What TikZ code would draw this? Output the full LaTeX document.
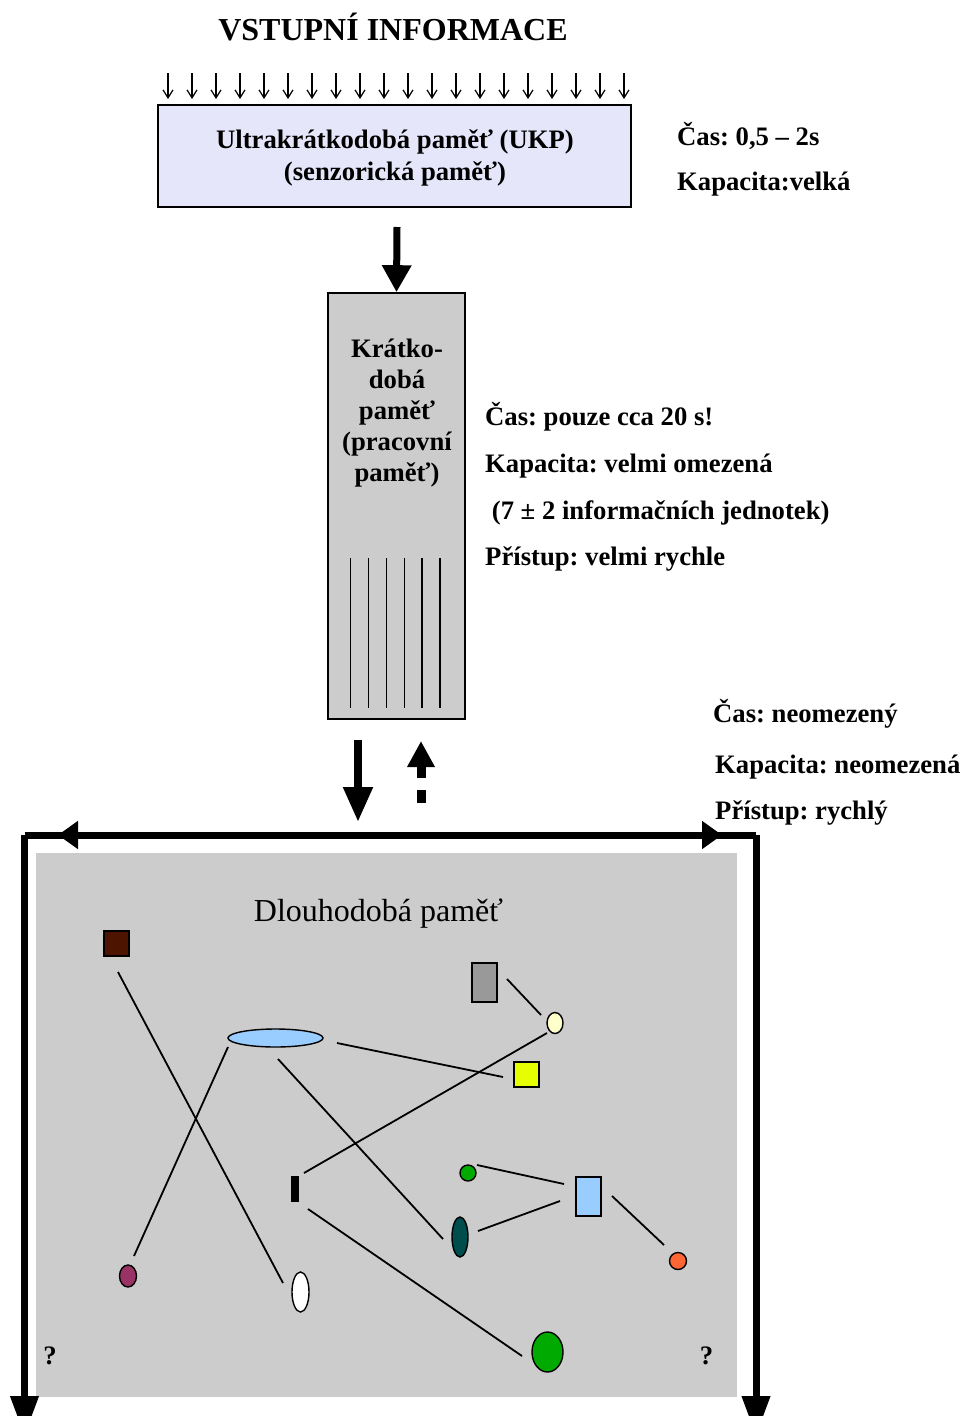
\documentclass[tikz,border=0pt]{standalone}
\usepackage{fontspec}
\setmainfont{Liberation Serif}
\usetikzlibrary{arrows.meta,shapes.geometric}
\frenchspacing

\definecolor{ukpfill}{RGB}{230,230,250}
\definecolor{panelgray}{RGB}{204,204,204}
\definecolor{cBrown}{RGB}{77,20,0}
\definecolor{cGray}{RGB}{153,153,153}
\definecolor{cCream}{RGB}{255,255,204}
\definecolor{cSky}{RGB}{153,204,255}
\definecolor{cLime}{RGB}{230,255,0}
\definecolor{cGreen}{RGB}{0,170,0}
\definecolor{cTeal}{RGB}{0,77,77}
\definecolor{cOrange}{RGB}{255,102,51}
\definecolor{cPlum}{RGB}{153,51,102}

\begin{document}
\begin{tikzpicture}[x=1pt,y=-1pt,
  body/.style={font=\fontsize{26.67}{31}\selectfont\bfseries, inner sep=0pt},
  info/.style={body, anchor=base west},
  memorybox/.style={draw, line width=1.6pt, inner sep=0pt},
  inarrow/.style={line width=1.2pt, -{Straight Barb[length=8pt,width=10pt]}},
  fatarrow/.style={line width=7pt, -{Triangle[length=27pt,width=28pt]}},
  framebar/.style={line width=7pt},
  blob/.style={draw, line width=1.4pt, inner sep=0pt},
  oval/.style={blob, ellipse},
  link/.style={line width=1.8pt}]

\useasboundingbox (0,0) rectangle (970,1416);
\clip (0,0) rectangle (970,1416);

% heading and incoming stimuli
\node[font=\fontsize{32}{38}\selectfont\bfseries, anchor=base, inner sep=0pt] (title) at (393,40) {VSTUPNÍ INFORMACE};
\foreach \i in {0,...,19}
  \draw[inarrow] ({168+24*\i},73) -- ({168+24*\i},99);

% sensory memory
\node[memorybox, fill=ukpfill, minimum width=473pt, minimum height=102pt] (ukp) at (394.5,156) {};
\node[body, align=center, font=\fontsize{26.67}{32}\selectfont\bfseries] (ukptext) at (395,158)
  {Ultrakrátkodobá paměť (UKP)\\(senzorická paměť)};
\node[info] (ukpcas) at (677,145) {Čas: 0,5 – 2s};
\node[info] (ukpkap) at (677,190) {Kapacita:velká};

% short-term memory
\node[memorybox, fill=panelgray, minimum width=137pt, minimum height=426pt] (stm) at (396.5,506) {};
\node[body, align=center] (stmtext) at (397,413) {Krátko-\\dobá\\paměť\\(pracovní\\paměť)};
\foreach \x in {350.5,368.5,386.5,404.5,422,440}
  \draw[line width=1.5pt] (\x,558) -- (\x,708);
\coordinate (ukpout) at (397,227);
\draw[fatarrow] (ukpout) -- (stm.north);

\node[info] (stmcas) at (485,425) {Čas: pouze cca 20 s!};
\node[info] (stmkap) at (485,472) {Kapacita: velmi omezená};
\node[info] (stmjed) at (485,519) {\ (7 ± 2 informačních jednotek)};
\node[info] (stmpri) at (485,565) {Přístup: velmi rychle};

% transfer between short-term and long-term memory
\coordinate (storeA) at (358,740);
\coordinate (storeB) at (358,822);
\draw[line width=8pt, -{Triangle[length=35pt,width=28pt]}] (storeA) -- (storeB);
\coordinate (recallA) at (421,803);
\coordinate (recallB) at (421,741);
\draw[line width=9pt, dash pattern=on 13pt off 12pt, -{Triangle[length=26pt,width=26pt]}] (recallA) -- (recallB);

\node[info] (ltmcas) at (713,722) {Čas: neomezený};
\node[info] (ltmkap) at (715,773) {Kapacita: neomezená};
\node[info] (ltmpri) at (715,819) {Přístup: rychlý};

% long-term memory frame
\fill[panelgray] (36,853) rectangle (737,1397);
\coordinate (cornerL) at (24.5,835);
\coordinate (cornerR) at (756,835);
\coordinate (bottomL) at (24.5,1436);
\coordinate (bottomR) at (756,1436);
\draw[framebar] (cornerL) -- (cornerR);
\draw[framebar, -{Triangle[length=40pt,width=27pt]}] (cornerL) -- (bottomL);
\draw[framebar, -{Triangle[length=40pt,width=27pt]}] (cornerR) -- (bottomR);
\draw[framebar, -{Triangle[length=20pt,width=27pt]}] (90,835) -- (58,835);
\draw[framebar, -{Triangle[length=20pt,width=27pt]}] (690,835) -- (722,835);

\node[font=\fontsize{32}{38}\selectfont, anchor=base, inner sep=0pt] (ltm) at (378.5,921) {Dlouhodobá paměť};
\node[body, anchor=base] (qL) at (50,1364) {?};
\node[body, anchor=base] (qR) at (706.5,1364) {?};

% stored items
\node[blob, fill=cBrown, minimum width=25pt, minimum height=25pt] (brown) at (116.5,943.5) {};
\node[blob, fill=cGray, minimum width=25pt, minimum height=39pt] (grey) at (484.5,982.5) {};
\node[oval, fill=cCream, minimum width=16pt, minimum height=21pt] (cream) at (555,1023) {};
\node[oval, fill=cSky, minimum width=95pt, minimum height=18pt] (sky) at (275.5,1038) {};
\node[blob, fill=cLime, minimum width=25pt, minimum height=25pt] (lime) at (526.5,1074.5) {};
\node[blob, fill=black, minimum width=7pt, minimum height=25pt] (bar) at (295,1189) {};
\node[blob, circle, fill=cGreen, minimum size=16pt] (dot) at (468,1173) {};
\node[blob, fill=cSky, minimum width=25pt, minimum height=39pt] (skybox) at (588.5,1196.5) {};
\node[oval, fill=cTeal, minimum width=16pt, minimum height=40pt] (teal) at (460,1237) {};
\node[blob, circle, fill=cOrange, minimum size=17pt] (orange) at (678,1261) {};
\node[oval, fill=white, minimum width=17pt, minimum height=40pt] (white) at (300.5,1292) {};
\node[oval, fill=cGreen, minimum width=31pt, minimum height=40pt] (green) at (547.5,1352) {};
\node[oval, fill=cPlum, minimum width=17pt, minimum height=22pt] (plum) at (128,1276) {};

% associations (line ends stop short of the items)
\coordinate (brown-o) at (118,972);   \coordinate (white-i) at (283,1283);
\coordinate (sky-a) at (228,1047);    \coordinate (plum-i) at (134,1256);
\coordinate (sky-b) at (337,1043);    \coordinate (lime-i) at (503,1077);
\coordinate (grey-o) at (507,979);    \coordinate (cream-a) at (541,1015);
\coordinate (cream-b) at (547,1033);  \coordinate (bar-a) at (304,1173);
\coordinate (sky-c) at (278,1059);    \coordinate (teal-a) at (443,1239);
\coordinate (dot-o) at (477,1165);    \coordinate (skybox-a) at (564,1184);
\coordinate (teal-b) at (478,1231);   \coordinate (skybox-b) at (560,1201);
\coordinate (skybox-c) at (612,1196); \coordinate (orange-i) at (664,1245);
\coordinate (bar-b) at (308,1209);    \coordinate (green-i) at (522,1356);
\draw[link] (brown-o) -- (white-i);
\draw[link] (sky-a) -- (plum-i);
\draw[link] (sky-b) -- (lime-i);
\draw[link] (grey-o) -- (cream-a);
\draw[link] (cream-b) -- (bar-a);
\draw[link] (sky-c) -- (teal-a);
\draw[link] (dot-o) -- (skybox-a);
\draw[link] (teal-b) -- (skybox-b);
\draw[link] (skybox-c) -- (orange-i);
\draw[link] (bar-b) -- (green-i);
\end{tikzpicture}
\end{document}
